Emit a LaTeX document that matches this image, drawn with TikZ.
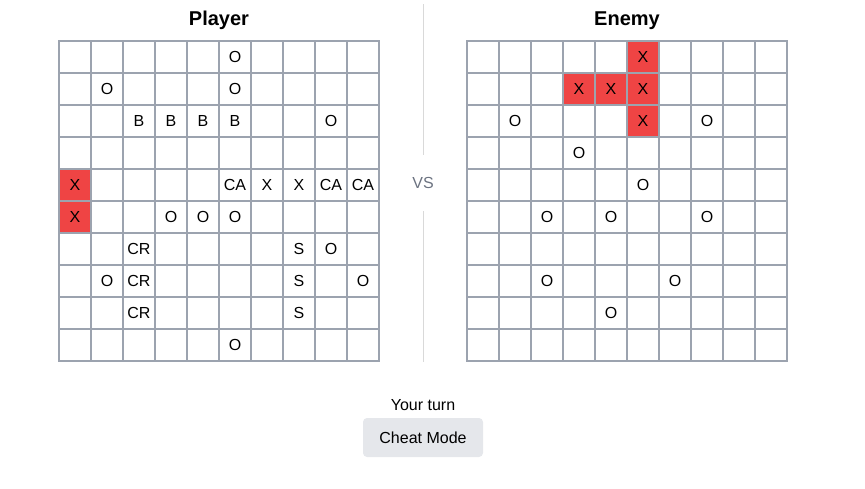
\documentclass[tikz,border=0pt]{standalone}
\usepackage{fontspec}
\setmainfont{Liberation Sans}
\usepackage{xcolor}
\usepackage{tikz}
\usetikzlibrary{positioning}

\definecolor{gridgray}{HTML}{9CA3AF}
\definecolor{hitred}{HTML}{EF4444}
\definecolor{btngray}{HTML}{E5E7EB}
\definecolor{divgray}{HTML}{D9D9D9}
\definecolor{vsgray}{HTML}{6B7280}

\begin{document}
\begin{tikzpicture}[x=1pt, y=-1pt, inner sep=0pt,
  every node/.style={font=\fontsize{16}{18}\selectfont, text height=11.5pt, text depth=0pt},
  cell/.style={draw=gridgray, line width=1.6pt, minimum size=32pt},
  hit/.style={cell, fill=hitred},
  title/.style={font=\fontsize{20}{22}\selectfont\bfseries, text height=14.4pt},
  button/.style={fill=btngray, rounded corners=4pt, minimum width=120pt, minimum height=39pt}]
\useasboundingbox (0,0) rectangle (865,488);

\node [title] (player) at (219,18) {Player};
\node [title] (enemy) at (627,18) {Enemy};

% the two boards
\foreach \r in {0,...,9}
  \foreach \c in {0,...,9} {
    \node [cell] (p-\r-\c) at (75+32*\c,57+32*\r) {};
    \node [cell] (e-\r-\c) at (483+32*\c,57+32*\r) {};
  }

% player board
\node [hit] at (p-4-0) {X};
\node [hit] at (p-5-0) {X};
\foreach \r/\c/\t in {0/5/O, 1/1/O, 1/5/O, 2/2/B, 2/3/B, 2/4/B, 2/5/B, 2/8/O,
    4/5/CA, 4/6/X, 4/7/X, 4/8/CA, 4/9/CA, 5/3/O, 5/4/O, 5/5/O,
    6/2/CR, 6/7/S, 6/8/O, 7/1/O, 7/2/CR, 7/7/S, 7/9/O, 8/2/CR, 8/7/S, 9/5/O}
  \node (pl-\r-\c) at (p-\r-\c) {\t};

% enemy board
\foreach \r/\c in {0/5, 1/3, 1/4, 1/5, 2/5}
  \node [hit] (eh-\r-\c) at (e-\r-\c) {X};
\foreach \r/\c in {2/1, 2/7, 3/3, 4/5, 5/2, 5/4, 5/7, 7/2, 7/6, 8/4}
  \node (el-\r-\c) at (e-\r-\c) {O};

% divider
\node [text=vsgray, minimum height=56pt] (vs) at (423,183) {VS};
\coordinate (divtop) at (423,4);
\coordinate (divbot) at (423,362);
\draw [divgray, line width=1pt] (divtop) -- (vs.north);
\draw [divgray, line width=1pt] (vs.south) -- (divbot);

\node (turn) at (423,405) {Your turn};
\node [button] (cheat) at (423,437.5) {Cheat Mode};
\end{tikzpicture}
\end{document}
